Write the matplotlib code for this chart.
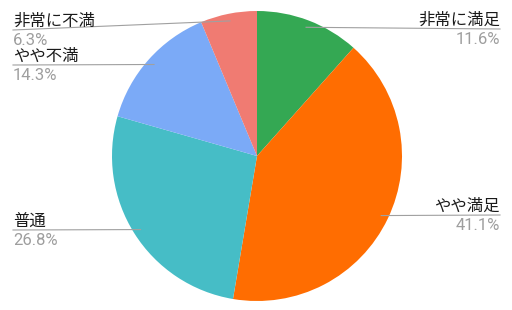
import numpy as np
import matplotlib
matplotlib.use("Agg")
import matplotlib.pyplot as plt

plt.rcParams['font.family'] = ['Noto Sans CJK JP', 'DejaVu Sans']

labels = ["非常に満足", "やや満足", "普通", "やや不満", "非常に不満"]
values = [11.6, 41.1, 26.8, 14.3, 6.3]
colors = ["#34A853", "#FF6D01", "#46BDC6", "#7BAAF7", "#F07B72"]
# y of each label's leader line, in pixels from the top
label_line_y = [29, 215, 230, 65, 30]

W, H = 512, 310
cx, cy, r = 257, H - 156, 145

fig = plt.figure(figsize=(W / 100, H / 100), dpi=100)
ax = fig.add_axes([0, 0, 1, 1])

wedges, _ = ax.pie(values, colors=colors, startangle=90, counterclock=False,
                   center=(cx, cy), radius=r, wedgeprops=dict(linewidth=0))
ax.set_xlim(0, W)
ax.set_ylim(0, H)
ax.set_aspect("equal")
ax.axis("off")

for w, name, v, ly in zip(wedges, labels, values, label_line_y):
    mid = np.deg2rad((w.theta1 + w.theta2) / 2)
    x0 = cx + 0.95 * r * np.cos(mid)
    y0 = cy + 0.95 * r * np.sin(mid)
    right = np.cos(mid) > 0
    xl = 500 if right else 13
    yl = H - ly
    ha = "right" if right else "left"
    ax.plot([x0, xl], [y0, yl], color="#a0a0a0", lw=0.8, zorder=3)
    ax.text(xl, yl + 4, name, ha=ha, va="baseline", fontsize=11.8,
            color="#1a1a1a")
    ax.text(xl, yl - 15, f"{v}%", ha=ha, va="baseline", fontsize=12,
            color="#9e9e9e", family=["Roboto", "DejaVu Sans"])

fig.savefig("out.png", dpi=100)
